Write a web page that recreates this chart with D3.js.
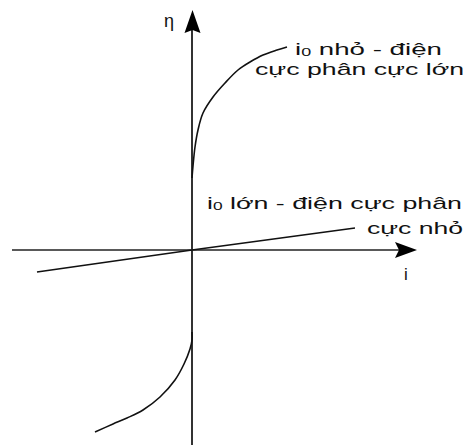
<!DOCTYPE html>
<html>
<head>
<meta charset="utf-8">
<script src="https://cdn.jsdelivr.net/npm/d3@7"></script>
<style>
  body { margin: 0; background: #fff; }
  svg { display: block; }
</style>
</head>
<body>
<div id="chart"></div>
<script>
// axis ranges (i horizontal, eta vertical), arbitrary units
const iDomain = [-180, 225];
const etaDomain = [-195, 240];

// small i0: strongly polarised electrode (anodic branch and cathodic branch)
const smallI0Upper = [
    [0, 72], [1, 84], [3, 103], [6, 120], [11, 137], [21, 153],
    [33, 167], [46, 180], [58, 188], [71, 195], [85, 200], [95, 203]
];
const smallI0Lower = [
    [0, -82], [0, -90], [-2, -99], [-8, -114], [-17, -130],
    [-32, -147], [-49, -160], [-65, -168], [-79, -174], [-97, -182]
];
// large i0: weakly polarised electrode (almost linear)
const largeI0 = [[-155, -22], [0, 0], [163, 22]];

const labelSmall = ["i", "0", " nhỏ - điện", "cực phân cực lớn"];
const labelLarge = ["i", "0", " lớn - điện cực phân", "cực nhỏ"];

const W = 467, H = 447;
const x = d3.scaleLinear().domain(iDomain).range([12, 417]);
const y = d3.scaleLinear().domain(etaDomain).range([445, 10]);

const svg = d3.select("#chart").append("svg")
    .attr("width", W)
    .attr("height", H)
    .style("font-family", "'Liberation Sans', Arial, sans-serif");

// axes
svg.append("line")
    .attr("x1", x(iDomain[0])).attr("x2", x(iDomain[1]) - 12)
    .attr("y1", y(0)).attr("y2", y(0))
    .attr("stroke", "#222").attr("stroke-width", 1.6);
svg.append("line")
    .attr("x1", x(0)).attr("x2", x(0))
    .attr("y1", y(etaDomain[0])).attr("y2", y(etaDomain[1]) + 12)
    .attr("stroke", "#333").attr("stroke-width", 2);

// arrow heads
const ax = x(iDomain[1]), ay = y(0);
svg.append("path")
    .attr("d", `M${ax},${ay} L${ax - 22},${ay - 8} L${ax - 18},${ay} L${ax - 22},${ay + 8} Z`)
    .attr("fill", "#000");
const vx = x(0) + 0.5, vy = y(etaDomain[1]);
svg.append("path")
    .attr("d", `M${vx},${vy} L${vx + 8},${vy + 23} L${vx},${vy + 20} L${vx - 8},${vy + 23} Z`)
    .attr("fill", "#000");

// curves
const line = d3.line()
    .x(d => x(d[0]))
    .y(d => y(d[1]))
    .curve(d3.curveCatmullRom.alpha(0.5));

[smallI0Upper, smallI0Lower].forEach(pts => {
    svg.append("path")
        .datum(pts)
        .attr("fill", "none")
        .attr("stroke", "#111")
        .attr("stroke-width", 1.6)
        .attr("d", line);
});

svg.append("path")
    .datum(largeI0)
    .attr("fill", "none")
    .attr("stroke", "#111")
    .attr("stroke-width", 1.6)
    .attr("d", d3.line().x(d => x(d[0])).y(d => y(d[1])));

// axis labels
svg.append("text")
    .attr("x", x(0) - 28).attr("y", 27)
    .attr("font-size", 18)
    .attr("fill", "#111")
    .text("η");
svg.append("text")
    .attr("x", 404).attr("y", 280)
    .attr("font-size", 17)
    .attr("fill", "#111")
    .text("i");

// two-line annotation with subscripted i0
function label(parts, x1, y1, w1, x2, y2, w2) {
    const t = svg.append("text")
        .attr("x", x1).attr("y", y1)
        .attr("font-size", 17)
        .attr("fill", "#111")
        .attr("textLength", w1)
        .attr("lengthAdjust", "spacingAndGlyphs");
    t.append("tspan").text(parts[0]);
    t.append("tspan").attr("font-size", 11).attr("dy", 1).text(parts[1]);
    t.append("tspan").attr("dy", -1).text(parts[2]);

    svg.append("text")
        .attr("x", x2).attr("y", y2)
        .attr("font-size", 17)
        .attr("fill", "#111")
        .attr("textLength", w2)
        .attr("lengthAdjust", "spacingAndGlyphs")
        .text(parts[3]);
}

label(labelSmall, 295, 55, 147, 255, 75, 209);
label(labelLarge, 207, 209, 255, 367, 234, 96);
</script>
</body>
</html>
